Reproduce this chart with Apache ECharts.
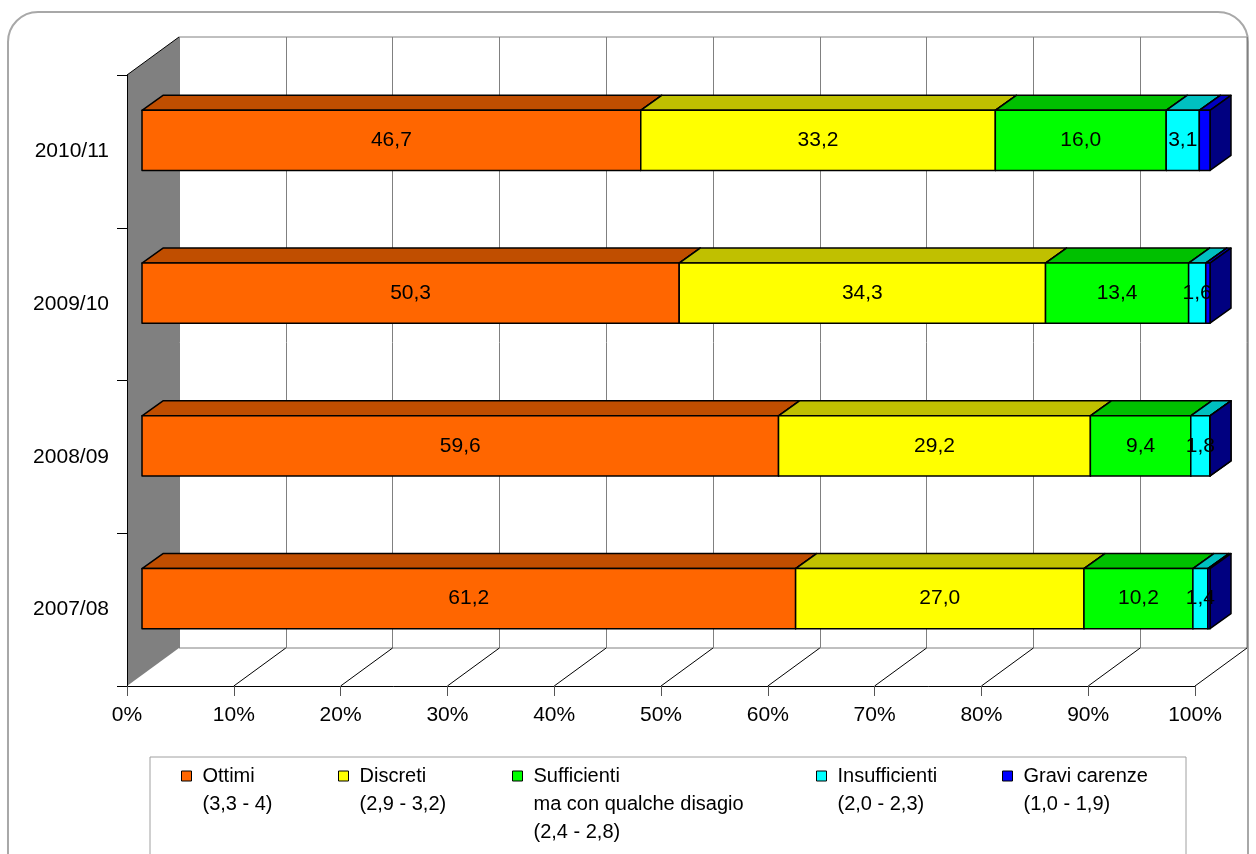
<!DOCTYPE html>
<html>
<head>
    <meta charset="utf-8">
    <title>Livelli di apprendimento</title>
    <script src="https://cdn.jsdelivr.net/npm/echarts@6/dist/echarts.min.js" type="text/javascript" charset="utf-8"></script>
    <style>
        html, body { margin: 0; padding: 0; background: #fff; }
    </style>
</head>
<body>
<div id="div01" style="width: 1256px;height: 854px;"></div>
</body>
<script type="text/javascript">

    // dati (percentuali per anno scolastico)
    var categories = ['2007/08', '2008/09', '2009/10', '2010/11'];
    var ottimi = [61.2, 59.6, 50.3, 46.7];
    var discreti = [27.0, 29.2, 34.3, 33.2];
    var sufficienti = [10.2, 9.4, 13.4, 16.0];
    var insufficienti = [1.4, 1.8, 1.6, 3.1];
    var gravi = [0.2, 0.0, 0.4, 1.0];

    var seriesNames = ['Ottimi', 'Discreti', 'Sufficienti', 'Insufficienti', 'Gravi carenze'];
    var legendSub = ['(3,3 - 4)', '(2,9 - 3,2)', 'ma con qualche disagio\n(2,4 - 2,8)', '(2,0 - 2,3)', '(1,0 - 1,9)'];
    var xTicks = [0, 10, 20, 30, 40, 50, 60, 70, 80, 90, 100];

    // colori: fronte, sopra, lato
    var frontColors = ['#FF6600', '#FFFF00', '#00FF00', '#00FFFF', '#0000FF'];
    var topColors = ['#C04E00', '#C0C000', '#00C000', '#00C0C0', '#0000C0'];
    var sideColors = ['#803300', '#808000', '#008000', '#008080', '#000080'];

    var FONT = '"Liberation Sans", Arial, sans-serif';
    var DX = 52, DY = 38;      // profondita' pareti
    var OX = 15, OY = 11;      // spostamento faccia frontale barre
    var BX = 21, BY = 15;      // profondita' barre
    var BAR_RATIO = 0.393;

    var allValues = [ottimi, discreti, sufficienti, insufficienti, gravi];

    // accumula i valori per ogni anno
    function buildData(k) {
        var out = [];
        for (var i = 0; i < categories.length; i++) {
            var start = 0;
            for (var j = 0; j < k; j++) start += allValues[j][i];
            out.push([start, start + allValues[k][i], i, allValues[k][i]]);
        }
        return out;
    }

    function fmt(v) {
        return v.toFixed(1).replace('.', ',');
    }

    function makeBarRender(k) {
        return function (params, api) {
            var start = api.value(0), end = api.value(1), cat = api.value(2), val = api.value(3);
            var pS = api.coord([start, cat]);
            var pE = api.coord([end, cat]);
            var band = api.size([0, 1])[1];
            var h = band * BAR_RATIO;
            var x0 = pS[0] + OX, x1 = pE[0] + OX;
            var yT = pS[1] - OY - h / 2, yB = yT + h;
            var line = {stroke: '#000', lineWidth: 1.5, lineJoin: 'round'};
            var children = [
                {
                    type: 'polygon',
                    shape: {points: [[x0, yT], [x1, yT], [x1 + BX, yT - BY], [x0 + BX, yT - BY]]},
                    style: echarts.util.extend({fill: topColors[k]}, line)
                },
                {
                    type: 'polygon',
                    shape: {points: [[x1, yT], [x1 + BX, yT - BY], [x1 + BX, yB - BY], [x1, yB]]},
                    style: echarts.util.extend({fill: sideColors[k]}, line)
                },
                {
                    type: 'rect',
                    shape: {x: x0, y: yT, width: x1 - x0, height: h},
                    style: echarts.util.extend({fill: frontColors[k]}, line)
                }
            ];
            if (k < 4 && val > 0) {
                children.push({
                    type: 'text',
                    z2: 100,
                    x: (x0 + x1) / 2,
                    y: (yT + yB) / 2,
                    style: {
                        text: fmt(val), fill: '#000', font: '21px ' + FONT,
                        align: 'center', verticalAlign: 'middle'
                    }
                });
            }
            return {type: 'group', children: children};
        };
    }

    // parete sinistra e pavimento
    function renderFrame(params, api) {
        var band = api.size([0, 1])[1];
        var n = categories.length;
        var yBot = api.coord([0, 0])[1] + band / 2;
        var yTop = api.coord([0, n - 1])[1] - band / 2;
        var x0 = api.coord([0, 0])[0];
        var children = [
            {
                type: 'polygon',
                shape: {points: [[x0, yTop], [x0 + DX, yTop - DY], [x0 + DX, yBot - DY], [x0, yBot]]},
                style: {fill: '#808080'}
            },
            {
                type: 'line',
                shape: {x1: x0, y1: yTop, x2: x0 + DX, y2: yTop - DY},
                style: {stroke: '#000', lineWidth: 1}
            }
        ];
        for (var i = 1; i < xTicks.length; i++) {
            var x = api.coord([xTicks[i], 0])[0];
            children.push({
                type: 'line',
                shape: {x1: x, y1: yBot, x2: x + DX, y2: yBot - DY},
                style: {stroke: '#000', lineWidth: 1}
            });
        }
        return {type: 'group', children: children};
    }

    var myChart = echarts.init(document.getElementById('div01'));

    var series = [{
        type: 'custom',
        name: 'frame',
        xAxisIndex: 0,
        yAxisIndex: 0,
        silent: true,
        z: 1,
        renderItem: renderFrame,
        data: [[0, 0]]
    }];
    for (var k = 0; k < seriesNames.length; k++) {
        series.push({
            type: 'custom',
            name: seriesNames[k],
            xAxisIndex: 0,
            yAxisIndex: 0,
            z: 2,
            itemStyle: {color: frontColors[k]},
            encode: {x: [0, 1], y: 2},
            renderItem: makeBarRender(k),
            data: buildData(k)
        });
    }

    // una legenda per voce, per posizionarle come nell'originale
    // (righe vuote in testa: la prima riga resta allineata al quadratino)
    var legendLeft = [181, 338, 512, 816, 1002];
    var legends = [];
    for (var m = 0; m < seriesNames.length; m++) {
        var lines = 1 + legendSub[m].split('\n').length;
        var blank = new Array(lines).join('\n');
        legends.push({
            data: [seriesNames[m]],
            left: legendLeft[m],
            top: 776 - (2 * lines - 1) * 14,
            padding: 0,
            icon: 'rect',
            itemWidth: 10,
            itemHeight: 10,
            itemStyle: {borderColor: '#000', borderWidth: 1},
            formatter: (function (sub, pre) {
                return function (name) { return pre + name + '\n' + sub; };
            })(legendSub[m], blank),
            textStyle: {
                fontSize: 20, fontFamily: FONT, color: '#000',
                lineHeight: 28, padding: [0, 0, 0, 6]
            }
        });
    }

    myChart.setOption({
        backgroundColor: '#fff',
        animation: false,
        legend: legends,
        graphic: [
            {
                type: 'rect',
                shape: {x: 8, y: 12, width: 1240, height: 900, r: 30},
                style: {fill: 'none', stroke: '#A8A8A8', lineWidth: 2},
                silent: true
            },
            {
                type: 'rect',
                shape: {x: 150, y: 757, width: 1036, height: 120},
                style: {fill: 'none', stroke: '#A0A0A0', lineWidth: 1},
                silent: true
            }
        ],
        grid: [
            {left: 127, right: 61, top: 75, bottom: 168},
            {
                left: 179, right: 9, top: 37, bottom: 206,
                show: true, backgroundColor: '#fff', borderColor: '#808080', borderWidth: 1
            }
        ],
        xAxis: [
            {
                type: 'value', gridIndex: 0, min: 0, max: 100, interval: 10, z: 3,
                axisLine: {show: true, lineStyle: {color: '#000', width: 1}},
                axisTick: {show: true, length: 10, lineStyle: {color: '#555'}},
                axisLabel: {formatter: '{value}%', fontSize: 21, fontFamily: FONT, color: '#000', margin: 19},
                splitLine: {show: false}
            },
            {
                type: 'value', gridIndex: 1, min: 0, max: 100, interval: 10,
                axisLine: {show: false}, axisTick: {show: false}, axisLabel: {show: false},
                splitLine: {show: true, lineStyle: {color: '#808080', width: 1}}
            }
        ],
        yAxis: [
            {
                type: 'category', gridIndex: 0, data: categories, z: 3,
                axisLine: {show: true, lineStyle: {color: '#000', width: 1}},
                axisTick: {show: true, length: 10, lineStyle: {color: '#000'}},
                axisLabel: {fontSize: 21, fontFamily: FONT, color: '#000', margin: 18},
                splitLine: {show: false}
            },
            {
                type: 'category', gridIndex: 1, data: categories, show: false
            }
        ],
        series: series
    });
</script>
</html>
